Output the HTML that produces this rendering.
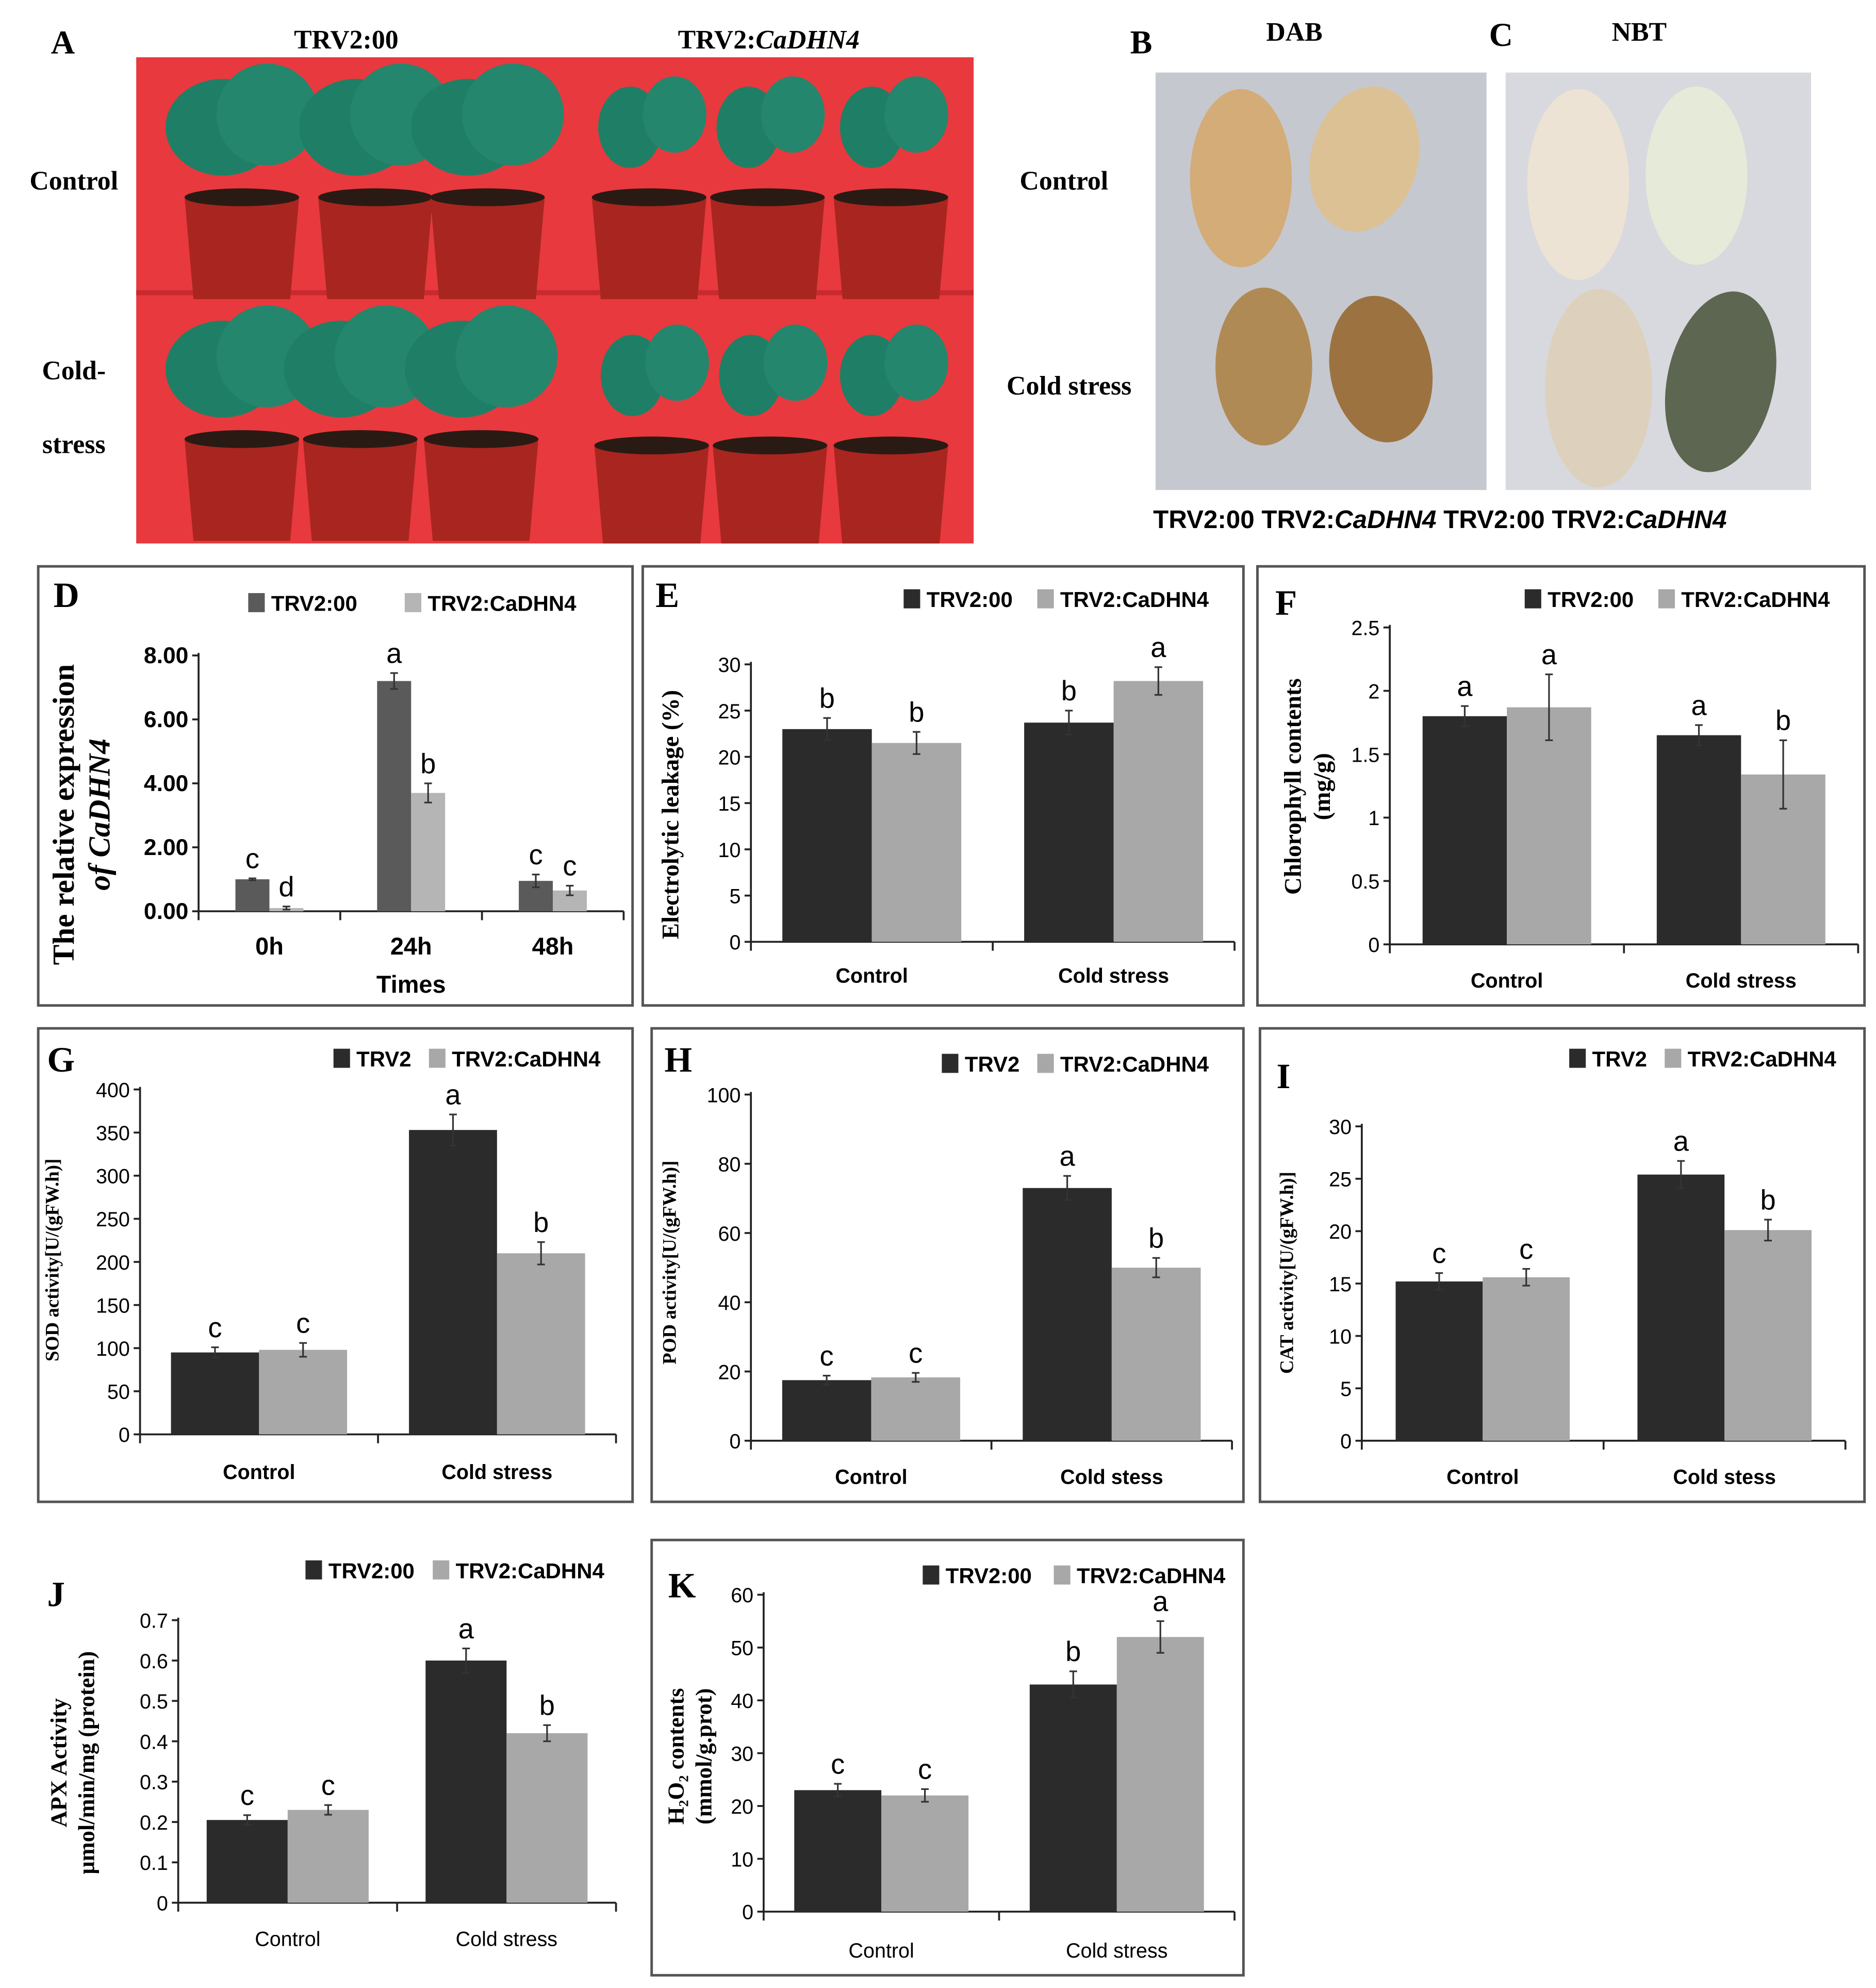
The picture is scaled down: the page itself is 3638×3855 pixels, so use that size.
<!DOCTYPE html>
<html><head><meta charset="utf-8"><style>
html,body{margin:0;padding:0;background:#fff}
svg{display:block}
text{font-family:"Liberation Sans",sans-serif}
.serif{font-family:"Liberation Serif",serif;font-weight:bold}
</style></head><body>
<svg id="fig" width="3638" height="3855" viewBox="0 0 1474 1562" xmlns="http://www.w3.org/2000/svg">
<defs><clipPath id="clipA"><rect x="107" y="45" width="658" height="382"/></clipPath></defs>
<rect width="1474" height="1562" fill="#fff"/>
<g>
<text class="serif" x="40" y="42" font-size="26">A</text>
<text class="serif" x="272" y="38" font-size="21" text-anchor="middle">TRV2:00</text>
<text class="serif" x="604" y="38" font-size="21" text-anchor="middle">TRV2:<tspan font-style="italic">CaDHN4</tspan></text>
<text class="serif" x="58" y="149" font-size="21" text-anchor="middle">Control</text>
<text class="serif" x="58" y="298" font-size="21" text-anchor="middle">Cold-</text>
<text class="serif" x="58" y="356" font-size="21" text-anchor="middle">stress</text>
<rect x="107" y="45" width="658" height="382" fill="#e8393e"/>
<rect x="107" y="228" width="658" height="4" fill="#c92a30"/>
<g id="plants" clip-path="url(#clipA)"></g>
</g>
<g>
<text class="serif" x="888" y="42" font-size="26">B</text>
<text class="serif" x="1017" y="32" font-size="21" text-anchor="middle">DAB</text>
<text class="serif" x="1170" y="36" font-size="26">C</text>
<text class="serif" x="1288" y="32" font-size="21" text-anchor="middle">NBT</text>
<text class="serif" x="836" y="149" font-size="21" text-anchor="middle">Control</text>
<text class="serif" x="840" y="310" font-size="21" text-anchor="middle">Cold stress</text>
<rect x="908" y="57" width="260" height="328" fill="#c6c8cf"/>
<rect x="1183" y="57" width="240" height="328" fill="#d8d9de"/>
<ellipse cx="975" cy="140" rx="40" ry="70" fill="#d4ac78"/>
<ellipse cx="1072" cy="125" rx="42" ry="58" fill="#dcc195" transform="rotate(15 1072 125)"/>
<ellipse cx="993" cy="288" rx="38" ry="62" fill="#b08a55"/>
<ellipse cx="1085" cy="290" rx="40" ry="58" fill="#9c7340" transform="rotate(-10 1085 290)"/>
<ellipse cx="1240" cy="145" rx="40" ry="75" fill="#ece3d4"/>
<ellipse cx="1333" cy="138" rx="40" ry="70" fill="#e6ead9"/>
<ellipse cx="1256" cy="305" rx="42" ry="78" fill="#ddd1bd"/>
<ellipse cx="1352" cy="300" rx="42" ry="72" fill="#5c6650" transform="rotate(12 1352 300)"/>
<text x="906" y="415" font-size="20" font-weight="bold">TRV2:00 TRV2:<tspan font-style="italic">CaDHN4</tspan> TRV2:00  TRV2:<tspan font-style="italic">CaDHN4</tspan></text>
</g>
<g id="charts"></g>
</svg>
<script>
const NS="http://www.w3.org/2000/svg";
function mk(p,tag,a,t){const e=document.createElementNS(NS,tag);for(const k in a)e.setAttribute(k,a[k]);if(t!==undefined)e.textContent=t;p.appendChild(e);return e;}
const pg=document.getElementById('plants');
[[190,200],[295,200],[383,200],[510,200],[603,200],[700,200],[190,390],[283,390],[378,390],[512,395],[605,395],[700,395]].forEach((c,i)=>{
 mk(pg,'polygon',{points:`${c[0]-45},${c[1]-45} ${c[0]+45},${c[1]-45} ${c[0]+38},${c[1]+35} ${c[0]-38},${c[1]+35}`,fill:'#a8261f'});
 mk(pg,'ellipse',{cx:c[0],cy:c[1]-45,rx:45,ry:7,fill:'#2a1a14'});
 const big=(i%6)<3;
 mk(pg,'ellipse',{cx:c[0]-15,cy:c[1]-100,rx:big?45:25,ry:big?38:32,fill:'#1f7f66'});
 mk(pg,'ellipse',{cx:c[0]+20,cy:c[1]-110,rx:big?40:25,ry:big?40:30,fill:'#24866c'});
});

const dCats=["0h","24h","48h"];
const dS1=[1.0,7.2,0.95], dS2=[0.1,3.7,0.65];
const dE1=[0.03,0.25,0.2], dE2=[0.05,0.3,0.15];
const dL1=["c","a","c"], dL2=["d","b","c"];
const dTicks=["0.00","2.00","4.00","6.00","8.00"];

const ctl=["Control","Cold stress"];
const ctl2=["Control","Cold stess"];
const eS1=[23,23.7], eS2=[21.5,28.2], eE1=[1.2,1.3], eE2=[1.2,1.5], eL1=["b","b"], eL2=["b","a"];
const fS1=[1.8,1.65], fS2=[1.87,1.34], fE1=[0.08,0.08], fE2=[0.26,0.27], fL1=["a","a"], fL2=["a","b"];
const gS1=[95,353], gS2=[98,210], gE1=[6,18], gE2=[8,13], gL1=["c","a"], gL2=["c","b"];
const hS1=[17.5,73], hS2=[18.3,50], hE1=[1.3,3.5], hE2=[1.3,2.8], hL1=["c","a"], hL2=["c","b"];
const iS1=[15.2,25.4], iS2=[15.6,20.1], iE1=[0.8,1.3], iE2=[0.8,1.0], iL1=["c","a"], iL2=["c","b"];
const jS1=[0.205,0.6], jS2=[0.23,0.42], jE1=[0.012,0.03], jE2=[0.012,0.02], jL1=["c","a"], jL2=["c","b"];
const kS1=[23,43], kS2=[22,52], kE1=[1.2,2.5], kE2=[1.2,3], kL1=["c","b"], kL2=["c","a"];

const root=document.getElementById('charts');
function chart(o){
 const g=mk(root,'g',{});
 
 
 if(o.box){const b=mk(g,'rect',{x:o.box[0],y:o.box[1],width:o.box[2]-o.box[0],height:o.box[3]-o.box[1],fill:'none',stroke:'#555','stroke-width':2});
  }
 const lb=mk(g,'text',{x:o.lab[0],y:o.lab[1],'font-size':28,class:'serif'},o.letter);
 
 const y=v=>o.y0-(v-o.min)/(o.max-o.min)*(o.y0-o.y1);
 mk(g,'line',{x1:o.x0,y1:o.y1-2,x2:o.x0,y2:o.y0,stroke:'#222','stroke-width':1.5});
 mk(g,'line',{x1:o.x0,y1:o.y0,x2:o.x2,y2:o.y0,stroke:'#222','stroke-width':1.5});
 o.ticks.forEach((t,i)=>{const v=o.min+i*o.step;const yy=y(v);
  mk(g,'line',{x1:o.x0-5,y1:yy,x2:o.x0,y2:yy,stroke:'#222','stroke-width':1.5});
  const tt=mk(g,'text',{x:o.x0-8,y:yy+6,'font-size':o.tfs||16,'text-anchor':'end','font-weight':o.tbold?'bold':'normal'},t);
  });
 const n=o.cats.length, cw=(o.x2-o.x0)/n;
 for(let i=0;i<=n;i++){mk(g,'line',{x1:o.x0+i*cw,y1:o.y0,x2:o.x0+i*cw,y2:o.y0+7,stroke:'#222','stroke-width':1.5});}
 const cs=[o.c1,o.c2];
 o.cats.forEach((c,i)=>{
  const cx=o.x0+(i+0.5)*cw, bw=cw*o.bf;
  [o.s1,o.s2].forEach((s,k)=>{
   const x=cx-bw+k*bw, v=s[i], e=(k?o.e2:o.e1)[i], L=(k?o.l2:o.l1)[i];
   const r=mk(g,'rect',{x:x,y:y(v),width:bw,height:o.y0-y(v),fill:cs[k]});
   
   
   const ex=x+bw/2;
   mk(g,'line',{x1:ex,y1:y(v+e),x2:ex,y2:y(v-e),stroke:'#333','stroke-width':1.3});
   mk(g,'line',{x1:ex-3,y1:y(v+e),x2:ex+3,y2:y(v+e),stroke:'#333','stroke-width':1.3});
   mk(g,'line',{x1:ex-3,y1:y(v-e),x2:ex+3,y2:y(v-e),stroke:'#333','stroke-width':1.3});
   const lt=mk(g,'text',{x:ex,y:y(v+e)-8,'font-size':22,'text-anchor':'middle'},L);
   
  });
  const ct=mk(g,'text',{x:cx,y:o.y0+o.cdy,'font-size':o.cfs||17,'text-anchor':'middle','font-weight':o.cbold===false?'normal':'bold'},c);
  
 });
 [[o.leg[0],o.n1,o.c1],[o.leg[1],o.n2,o.c2]].forEach((l,k)=>{
  mk(g,'rect',{x:l[0],y:o.leg[2]-14,width:13,height:15,fill:l[2]});
  const lt=mk(g,'text',{x:l[0]+18,y:o.leg[2],'font-size':17,'font-weight':'bold'},l[1]);
  
 });
 const yt=mk(g,'text',{x:o.yt[0],y:o.yt[1],'font-size':o.ytfs||18,'text-anchor':'middle',class:'serif',transform:`rotate(-90 ${o.yt[0]} ${o.yt[1]})`});
 
 o.ytl.forEach((s,i)=>{mk(yt,'tspan',{x:o.yt[0],dy:i?o.ytfs+4:0,'font-style':(o.ital&&i==1)?'italic':'normal'},s);});
 return g;
}
const DK="#2b2b2b", LT="#a8a8a8";
const D=chart({name:'chart-d',box:[30,445,497,790],letter:'D',lab:[42,477],x0:156,x2:490,y0:716,y1:515,min:0,max:8,step:2,ticks:dTicks,tfs:18,tbold:true,
 cats:dCats,s1:dS1,s2:dS2,e1:dE1,e2:dE2,l1:dL1,l2:dL2,bf:0.24,c1:'#5a5a5a',c2:'#b5b5b5',cdy:34,cfs:19,
 leg:[195,318,480],n1:'TRV2:00',n2:'TRV2:CaDHN4',yt:[58,640],ytfs:24,ital:true,ytl:['The relative expression','of CaDHN4']});
mk(D,'text',{x:323,y:780,'font-size':19,'font-weight':'bold','text-anchor':'middle'},'Times');
chart({name:'chart-e',box:[505,445,977,790],letter:'E',lab:[515,477],x0:590,x2:970,y0:740,y1:522,min:0,max:30,step:5,ticks:["0","5","10","15","20","25","30"],
 cats:ctl,s1:eS1,s2:eS2,e1:eE1,e2:eE2,l1:eL1,l2:eL2,bf:0.37,c1:DK,c2:LT,cdy:32,cfs:16,
 leg:[710,815,477],n1:'TRV2:00',n2:'TRV2:CaDHN4',yt:[533,640],ytfs:19,ytl:['Electrolytic leakage  (%)']});
chart({name:'chart-f',box:[988,445,1465,790],letter:'F',lab:[1002,483],x0:1092,x2:1460,y0:742,y1:493,min:0,max:2.5,step:0.5,ticks:["0","0.5","1","1.5","2","2.5"],
 cats:ctl,s1:fS1,s2:fS2,e1:fE1,e2:fE2,l1:fL1,l2:fL2,bf:0.36,c1:DK,c2:LT,cdy:34,cfs:16,
 leg:[1198,1303,477],n1:'TRV2:00',n2:'TRV2:CaDHN4',yt:[1022,618],ytfs:19,ytl:['Chlorophyll contents','(mg/g)']});
chart({name:'chart-g',box:[30,808,497,1180],letter:'G',lab:[37,842],x0:110,x2:484,y0:1127,y1:856,min:0,max:400,step:50,ticks:["0","50","100","150","200","250","300","350","400"],
 cats:ctl,s1:gS1,s2:gS2,e1:gE1,e2:gE2,l1:gL1,l2:gL2,bf:0.37,c1:DK,c2:LT,cdy:35,cfs:16,
 leg:[262,337,838],n1:'TRV2',n2:'TRV2:CaDHN4',yt:[46,990],ytfs:15,ytl:['SOD activity[U/(gFW.h)]']});
chart({name:'chart-h',box:[512,808,977,1180],letter:'H',lab:[522,842],x0:590,x2:968,y0:1132,y1:860,min:0,max:100,step:20,ticks:["0","20","40","60","80","100"],
 cats:ctl2,s1:hS1,s2:hS2,e1:hE1,e2:hE2,l1:hL1,l2:hL2,bf:0.37,c1:DK,c2:LT,cdy:34,cfs:16,
 leg:[740,815,842],n1:'TRV2',n2:'TRV2:CaDHN4',yt:[531,992],ytfs:15,ytl:['POD activity[U/(gFW.h)]']});
chart({name:'chart-i',box:[990,808,1465,1180],letter:'I',lab:[1003,855],x0:1070,x2:1450,y0:1132,y1:885,min:0,max:30,step:5,ticks:["0","5","10","15","20","25","30"],
 cats:ctl2,s1:iS1,s2:iS2,e1:iE1,e2:iE2,l1:iL1,l2:iL2,bf:0.36,c1:DK,c2:LT,cdy:34,cfs:16,
 leg:[1233,1308,838],n1:'TRV2',n2:'TRV2:CaDHN4',yt:[1016,1000],ytfs:15,ytl:['CAT activity[U/(gFW.h)]']});
chart({name:'chart-j',letter:'J',lab:[37,1262],x0:140,x2:484,y0:1495,y1:1273,min:0,max:0.7,step:0.1,ticks:["0","0.1","0.2","0.3","0.4","0.5","0.6","0.7"],
 cats:ctl,s1:jS1,s2:jS2,e1:jE1,e2:jE2,l1:jL1,l2:jL2,bf:0.37,c1:DK,c2:LT,cdy:34,cfs:16,cbold:false,
 leg:[240,340,1240],n1:'TRV2:00',n2:'TRV2:CaDHN4',yt:[52,1385],ytfs:18,ytl:['APX Activity','μmol/min/mg (protein)']});
chart({name:'chart-k',box:[512,1210,977,1552],letter:'K',lab:[525,1255],x0:600,x2:970,y0:1502,y1:1253,min:0,max:60,step:10,ticks:["0","10","20","30","40","50","60"],
 cats:ctl,s1:kS1,s2:kS2,e1:kE1,e2:kE2,l1:kL1,l2:kL2,bf:0.37,c1:DK,c2:LT,cdy:36,cfs:16,cbold:false,
 leg:[725,828,1244],n1:'TRV2:00',n2:'TRV2:CaDHN4',yt:[537,1380],ytfs:18,ytl:['H₂O₂ contents','(mmol/g.prot)']});
</script>
</body></html>
